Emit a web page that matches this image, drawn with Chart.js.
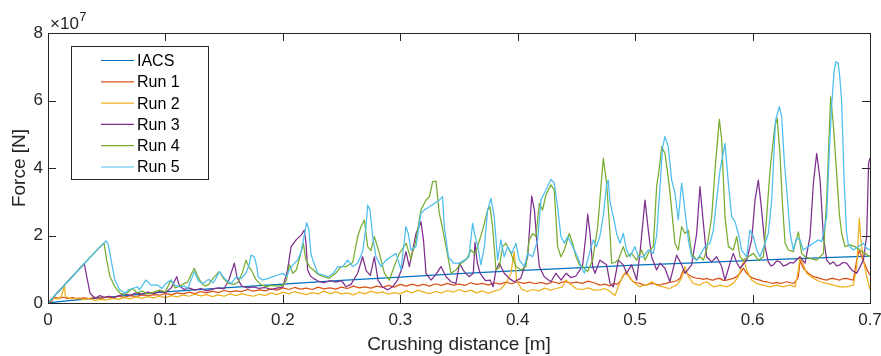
<!DOCTYPE html>
<html>
<head>
<meta charset="utf-8">
<script src="https://cdn.jsdelivr.net/npm/chart.js@4.4.0/dist/chart.umd.min.js"></script>
<style>
  html, body { margin: 0; padding: 0; background: #fff; }
</style>
</head>
<body>
<canvas id="forceChart" width="881" height="356"></canvas>
<script>
// Crushing distance [m] vs force [1e7 N], pairs of [distance, force]
const seriesNames = ["IACS", "Run 1", "Run 2", "Run 3", "Run 4", "Run 5"];
const seriesColors = ["#0072BD", "#D95319", "#EDB120", "#7E2F8E", "#77AC30", "#4DBEEE"];
const xTicks = [0, 0.1, 0.2, 0.3, 0.4, 0.5, 0.6, 0.7];
const yTicks = [0, 2, 4, 6, 8];

const iacs = [[0,0],[0.01,0.04],[0.02,0.08],[0.03,0.11],[0.05,0.17],[0.075,0.25],[0.1,0.33],[0.15,0.45],[0.2,0.56],[0.25,0.67],[0.3,0.77],[0.35,0.87],[0.4,0.96],[0.45,1.04],[0.5,1.12],[0.55,1.19],[0.6,1.26],[0.65,1.33],[0.7,1.39]];

const run1 = [[0,0],[0.003,0.05],[0.005,0.18],[0.009,0.14],[0.013,0.17],[0.017,0.13],[0.021,0.16],[0.025,0.12],[0.03,0.15],[0.035,0.13],[0.04,0.17],[0.045,0.14],[0.05,0.18],[0.055,0.16],[0.06,0.2],[0.065,0.17],[0.07,0.22],[0.075,0.19],[0.08,0.24],[0.085,0.21],[0.09,0.25],[0.095,0.23],[0.1,0.28],[0.105,0.25],[0.11,0.3],[0.115,0.27],[0.12,0.32],[0.125,0.28],[0.13,0.34],[0.135,0.3],[0.14,0.35],[0.145,0.31],[0.15,0.37],[0.155,0.33],[0.16,0.36],[0.165,0.34],[0.17,0.4],[0.175,0.35],[0.18,0.39],[0.185,0.36],[0.19,0.42],[0.195,0.38],[0.2,0.45],[0.205,0.4],[0.21,0.46],[0.215,0.41],[0.22,0.44],[0.225,0.4],[0.23,0.47],[0.235,0.42],[0.24,0.45],[0.245,0.41],[0.25,0.47],[0.255,0.43],[0.26,0.5],[0.265,0.45],[0.27,0.48],[0.275,0.44],[0.28,0.5],[0.285,0.46],[0.29,0.52],[0.295,0.47],[0.3,0.55],[0.305,0.5],[0.31,0.56],[0.315,0.51],[0.32,0.55],[0.325,0.5],[0.33,0.57],[0.335,0.52],[0.34,0.58],[0.345,0.53],[0.35,0.56],[0.355,0.52],[0.36,0.6],[0.365,0.55],[0.37,0.58],[0.375,0.53],[0.38,0.6],[0.385,0.56],[0.39,0.62],[0.395,0.57],[0.4,0.63],[0.405,0.58],[0.41,0.62],[0.415,0.57],[0.42,0.61],[0.425,0.56],[0.43,0.63],[0.435,0.58],[0.44,0.64],[0.445,0.59],[0.45,0.62],[0.455,0.58],[0.46,0.65],[0.465,0.6],
    [0.47,0.53],[0.4743,0.56],[0.4786,0.51],[0.4814,0.58],[0.4843,0.55],[0.4871,0.63],[0.4913,0.88],[0.4941,0.83],[0.4965,0.7],[0.4984,0.63],[0.5013,0.6],[0.5041,0.58],[0.507,0.54],[0.5098,0.53],[0.5126,0.57],[0.5155,0.58],[0.5183,0.55],[0.5211,0.53],[0.524,0.57],[0.5268,0.58],[0.5296,0.62],[0.5325,0.63],[0.5353,0.66],[0.5382,0.73],[0.541,0.98],[0.5438,0.88],[0.5481,0.78],[0.5515,0.74],[0.5552,0.73],[0.558,0.7],[0.5609,0.73],[0.5638,0.69],[0.5666,0.68],[0.5695,0.72],[0.5723,0.73],[0.575,0.67],[0.578,0.68],[0.5808,0.71],[0.5836,0.73],[0.5865,0.78],[0.5893,0.88],[0.5922,1.03],[0.595,0.88],[0.598,0.78],[0.6007,0.73],[0.6035,0.7],[0.6063,0.68],[0.609,0.64],[0.612,0.63],[0.615,0.6],[0.6177,0.58],[0.6205,0.61],[0.6234,0.58],[0.626,0.6],[0.6291,0.63],[0.632,0.6],[0.6347,0.58],[0.637,0.65],[0.639,0.78],[0.6404,1.27],[0.6432,1.03],[0.6475,0.88],[0.6518,0.78],[0.6545,0.76],[0.6574,0.73],[0.66,0.7],[0.6631,0.68],[0.666,0.72],[0.6688,0.73],[0.6715,0.7],[0.6744,0.68],[0.677,0.72],[0.6801,0.73],[0.683,0.7],[0.6858,0.68],[0.6887,1.27],[0.6909,1.57],[0.6929,1.37],[0.6958,1.13],[0.698,0.95],[0.7,0.83]];

const run2 = [[0,0],[0.004,0.15],[0.008,0.12],[0.0115,0.2],[0.0139,0.53],[0.0148,0.2],[0.018,0.14],[0.022,0.12],[0.026,0.15],[0.03,0.1],[0.035,0.13],[0.04,0.08],[0.045,0.11],[0.05,0.09],[0.055,0.14],[0.06,0.11],[0.065,0.16],[0.07,0.12],[0.075,0.18],[0.08,0.14],[0.085,0.19],[0.09,0.15],[0.095,0.2],[0.1,0.16],[0.105,0.22],[0.11,0.18],[0.115,0.24],[0.12,0.2],[0.125,0.26],[0.13,0.21],[0.135,0.25],[0.14,0.19],[0.145,0.24],[0.15,0.2],[0.155,0.27],[0.16,0.22],[0.165,0.28],[0.17,0.23],[0.175,0.2],[0.18,0.26],[0.185,0.22],[0.19,0.3],[0.195,0.25],[0.2,0.32],[0.205,0.27],[0.21,0.34],[0.215,0.29],[0.22,0.25],[0.225,0.31],[0.23,0.27],[0.235,0.35],[0.24,0.28],[0.245,0.33],[0.25,0.27],[0.255,0.3],[0.26,0.24],[0.265,0.32],[0.27,0.27],[0.275,0.35],[0.28,0.29],[0.285,0.33],[0.29,0.26],[0.295,0.31],[0.3,0.27],[0.305,0.36],[0.31,0.3],[0.315,0.38],[0.32,0.32],[0.325,0.28],[0.33,0.34],[0.335,0.3],[0.34,0.37],[0.345,0.32],[0.35,0.4],[0.355,0.33],[0.36,0.38],[0.365,0.3],[0.37,0.36],[0.375,0.29],[0.38,0.35],[0.385,0.4],[0.39,0.58],[0.3942,0.88],[0.397,1.52],[0.399,0.68],[0.403,0.42],[0.408,0.34],[0.413,0.4],[0.418,0.36],[0.423,0.44],[0.428,0.38],[0.433,0.43],[0.438,0.48],[0.4411,0.68],[0.445,0.55],[0.45,0.42],[0.455,0.4],[0.46,0.45],[0.465,0.38],
    [0.47,0.39],[0.4743,0.43],[0.4786,0.34],[0.4828,0.22],[0.4857,0.48],[0.4899,0.83],[0.4927,0.93],[0.4956,0.73],[0.4998,0.58],[0.5041,0.48],[0.507,0.52],[0.5098,0.53],[0.5141,0.63],[0.5183,0.53],[0.5211,0.5],[0.524,0.48],[0.5268,0.45],[0.5296,0.43],[0.5325,0.49],[0.5353,0.53],[0.5396,0.73],[0.5424,1.08],[0.5453,0.78],[0.5495,0.58],[0.5524,0.55],[0.5552,0.53],[0.558,0.6],[0.5609,0.63],[0.5638,0.55],[0.5666,0.48],[0.5695,0.5],[0.5723,0.53],[0.575,0.5],[0.578,0.48],[0.5808,0.53],[0.5836,0.58],[0.5879,0.78],[0.5907,1.08],[0.5927,1.27],[0.595,0.98],[0.5992,0.68],[0.6035,0.58],[0.6063,0.55],[0.6092,0.53],[0.612,0.5],[0.6149,0.48],[0.6177,0.51],[0.6206,0.53],[0.6234,0.5],[0.6262,0.48],[0.629,0.51],[0.6319,0.53],[0.6362,0.48],[0.639,0.98],[0.6404,1.37],[0.6427,1.18],[0.6461,0.88],[0.6518,0.73],[0.6574,0.63],[0.6631,0.58],[0.6688,0.53],[0.6744,0.48],[0.6801,0.48],[0.6858,0.53],[0.6887,1.08],[0.6909,2.51],[0.692,1.97],[0.6943,1.27],[0.6972,0.78],[0.7,0.39]];

const run3 = [[0,0],[0.0309,1.17],[0.033,0.78],[0.0358,0.29],[0.04,0.14],[0.0443,0.22],[0.048,0.17],[0.052,0.2],[0.056,0.16],[0.06,0.21],[0.065,0.27],[0.07,0.23],[0.075,0.3],[0.08,0.26],[0.085,0.32],[0.09,0.28],[0.095,0.34],[0.1,0.3],[0.105,0.45],[0.1096,0.78],[0.112,0.5],[0.116,0.4],[0.12,0.45],[0.125,0.38],[0.13,0.43],[0.135,0.36],[0.14,0.41],[0.145,0.45],[0.15,0.42],[0.154,0.68],[0.1587,1.18],[0.161,0.75],[0.165,0.5],[0.17,0.45],[0.175,0.48],[0.18,0.43],[0.185,0.46],[0.19,0.4],[0.195,0.44],[0.2,0.47],[0.204,0.98],[0.207,1.67],[0.2113,1.87],[0.2155,2.01],[0.2183,2.16],[0.2197,1.77],[0.2211,0.98],[0.2235,0.8],[0.226,0.73],[0.23,0.65],[0.235,0.6],[0.24,0.66],[0.245,0.62],[0.25,0.66],[0.2538,0.48],[0.258,0.55],[0.2637,0.88],[0.2679,1.37],[0.271,0.95],[0.2745,0.82],[0.2779,1.37],[0.281,0.68],[0.2847,0.48],[0.2892,0.39],[0.2935,0.48],[0.2977,0.68],[0.302,1.08],[0.3048,1.52],[0.3077,1.08],[0.3105,1.55],[0.3134,2.06],[0.3176,2.41],[0.3198,1.85],[0.3219,0.88],[0.3262,0.68],[0.3304,0.85],[0.3346,1.08],[0.339,0.78],[0.3432,0.63],[0.3474,0.58],[0.3505,1.18],[0.354,0.95],[0.3585,0.78],[0.3622,0.88],[0.3636,1.79],[0.3655,1.2],[0.368,0.88],[0.3725,0.66],[0.3765,0.68],[0.379,0.48],[0.3815,0.98],[0.3843,1.18],[0.3885,0.88],[0.3928,0.73],[0.397,0.63],[0.4025,0.73],[0.4085,1.37],[0.4119,3.17],[0.4142,2.76],[0.4162,1.87],[0.4184,1.08],[0.4226,0.78],[0.4283,0.63],[0.4326,0.88],[0.437,0.68],[0.4411,0.88],[0.4455,0.75],[0.4496,0.8],[0.4525,0.95],[0.4553,1.13],[0.4582,2.06],[0.4596,2.63],[0.4616,2.06],[0.4638,1.08],[0.4658,0.88],
    [0.47,1.27],[0.4757,1.13],[0.4786,0.58],[0.4814,0.48],[0.4857,1.27],[0.4899,1.13],[0.4927,0.88],[0.497,1.13],[0.5013,0.68],[0.5041,1.47],[0.5084,3.05],[0.5112,2.16],[0.514,1.37],[0.5183,0.98],[0.5211,1.18],[0.5254,1.03],[0.5296,0.63],[0.5353,1.42],[0.5396,1.13],[0.5424,0.88],[0.5481,1.13],[0.5524,2.06],[0.5552,3.45],[0.5581,2.36],[0.5609,1.37],[0.5652,1.22],[0.5694,1.37],[0.5737,1.08],[0.5765,0.68],[0.5808,1.18],[0.5836,1.47],[0.5865,1.2],[0.5893,1.03],[0.595,1.27],[0.5992,1.87],[0.6021,3.05],[0.6049,3.64],[0.6077,2.76],[0.6106,1.67],[0.6134,1.22],[0.6155,1.1],[0.6177,1.13],[0.6205,1.25],[0.6234,1.22],[0.626,1.1],[0.6291,1.13],[0.632,1.2],[0.6347,1.18],[0.6375,1.28],[0.6404,1.37],[0.6447,1.18],[0.6489,1.97],[0.6518,3.55],[0.6546,4.43],[0.6575,3.64],[0.6603,1.97],[0.6631,1.27],[0.666,1.15],[0.6688,1.22],[0.6715,1.1],[0.6744,1.13],[0.677,1.2],[0.6801,1.18],[0.6844,0.98],[0.6887,0.88],[0.6944,1.27],[0.6972,2.0],[0.6988,4.14],[0.7,4.3]];

const run4 = [[0,0],[0.0309,1.17],[0.0429,1.62],[0.0477,1.77],[0.05,1.27],[0.0528,0.78],[0.057,0.48],[0.0613,0.29],[0.065,0.25],[0.069,0.34],[0.072,0.43],[0.076,0.3],[0.08,0.35],[0.085,0.27],[0.09,0.32],[0.095,0.38],[0.1,0.33],[0.1047,0.68],[0.108,0.45],[0.112,0.5],[0.116,0.58],[0.119,0.62],[0.122,0.85],[0.1246,1.03],[0.128,0.75],[0.131,0.58],[0.134,0.5],[0.137,0.55],[0.141,0.75],[0.146,0.93],[0.15,0.7],[0.154,0.58],[0.158,0.55],[0.162,0.62],[0.1655,0.9],[0.1686,1.27],[0.171,1.08],[0.1735,0.95],[0.177,0.7],[0.181,0.55],[0.186,0.48],[0.19,0.52],[0.195,0.5],[0.2,0.52],[0.203,0.68],[0.2055,1.13],[0.2085,0.88],[0.2115,0.98],[0.2145,1.37],[0.2174,1.77],[0.2195,1.3],[0.2225,1.08],[0.226,0.98],[0.23,0.85],[0.2345,0.78],[0.2395,0.73],[0.245,0.88],[0.2495,1.08],[0.254,1.08],[0.2595,1.2],[0.2637,1.97],[0.2665,2.26],[0.2694,2.46],[0.2722,1.67],[0.275,1.55],[0.2779,1.97],[0.282,1.5],[0.2865,0.88],[0.2907,0.68],[0.295,1.1],[0.2992,1.47],[0.305,1.77],[0.309,1.3],[0.3134,1.87],[0.3176,2.76],[0.3219,3.05],[0.3248,3.15],[0.3276,3.6],[0.3304,3.61],[0.3332,2.66],[0.3355,2.3],[0.3389,1.67],[0.3432,0.88],[0.3474,0.98],[0.3518,1.18],[0.3565,1.3],[0.3602,1.57],[0.3635,1.45],[0.3665,1.75],[0.3701,2.16],[0.3744,2.76],[0.3764,2.85],[0.3786,2.26],[0.3815,0.98],[0.3843,1.05],[0.3871,1.67],[0.39,1.77],[0.3942,1.47],[0.3985,1.08],[0.4028,0.98],[0.407,1.08],[0.4098,1.87],[0.4127,2.06],[0.4155,1.97],[0.4184,2.95],[0.4212,2.76],[0.424,3.2],[0.4283,3.5],[0.4311,3.35],[0.434,1.67],[0.4368,1.37],[0.4397,1.57],[0.4439,2.06],[0.4468,1.77],[0.4496,1.37],[0.4525,1.13],[0.4553,1.08],[0.4595,0.93],[0.4638,1.27],[0.4681,2.26],[0.4709,3.45],[0.4729,4.29],
    [0.4757,3.55],[0.4786,2.06],[0.48,1.18],[0.4828,1.2],[0.4857,1.28],[0.4899,1.67],[0.4927,1.37],[0.497,1.47],[0.5013,1.27],[0.5055,1.57],[0.5084,1.27],[0.5126,1.57],[0.5155,1.67],[0.5183,3.45],[0.5211,4.14],[0.5226,4.63],[0.5254,4.43],[0.5275,3.9],[0.5296,3.3],[0.5311,2.76],[0.5339,1.77],[0.5367,1.57],[0.5396,2.26],[0.5424,2.06],[0.5453,2.16],[0.5481,1.47],[0.5524,1.27],[0.5552,1.37],[0.5581,1.27],[0.5609,1.57],[0.5652,2.56],[0.568,3.94],[0.5717,5.44],[0.5737,4.83],[0.5765,2.56],[0.5794,1.67],[0.5836,1.57],[0.5865,1.97],[0.5893,1.37],[0.5922,1.27],[0.5964,1.37],[0.6007,1.47],[0.6049,1.27],[0.6092,1.37],[0.612,2.56],[0.6149,3.94],[0.6189,5.22],[0.6209,5.47],[0.6232,4.5],[0.6255,2.9],[0.6277,1.77],[0.6305,1.57],[0.6347,1.52],[0.639,2.11],[0.6418,1.47],[0.6447,1.37],[0.6489,1.32],[0.6546,1.27],[0.6603,1.47],[0.6631,3.05],[0.6648,4.6],[0.6665,6.11],[0.6687,5.32],[0.6716,3.84],[0.674,2.6],[0.6759,2.06],[0.6787,1.67],[0.683,1.72],[0.6872,1.67],[0.6915,1.57],[0.6958,1.47],[0.7,1.37]];

const run5 = [[0,0],[0.0309,1.17],[0.0432,1.62],[0.0494,1.84],[0.0514,1.72],[0.0542,1.18],[0.057,0.68],[0.061,0.39],[0.0636,0.34],[0.0656,0.28],[0.069,0.4],[0.0721,0.43],[0.0763,0.48],[0.0778,0.39],[0.0834,0.68],[0.0877,0.53],[0.0934,0.53],[0.097,0.43],[0.1005,0.58],[0.1047,0.68],[0.108,0.52],[0.1125,0.48],[0.116,0.5],[0.119,0.43],[0.122,0.7],[0.1246,0.93],[0.128,0.65],[0.132,0.58],[0.1365,0.7],[0.141,0.6],[0.146,0.93],[0.151,0.7],[0.156,0.58],[0.1605,0.78],[0.164,0.72],[0.168,0.85],[0.171,1.1],[0.1729,1.42],[0.1757,1.37],[0.178,1.05],[0.179,0.78],[0.1825,0.68],[0.187,0.72],[0.1915,0.78],[0.196,0.83],[0.2,0.88],[0.203,0.78],[0.2055,0.98],[0.2085,1.13],[0.2125,1.27],[0.2155,1.5],[0.218,1.97],[0.2203,2.38],[0.222,2.21],[0.2241,1.42],[0.227,1.13],[0.2297,0.88],[0.234,0.83],[0.2385,0.78],[0.243,0.88],[0.2467,1.08],[0.251,1.08],[0.2552,1.27],[0.2595,1.08],[0.2637,1.18],[0.2679,1.52],[0.2708,2.26],[0.2722,2.9],[0.2742,2.76],[0.2765,1.97],[0.2793,1.37],[0.2835,1.08],[0.2878,1.27],[0.292,1.37],[0.2964,1.47],[0.3006,0.98],[0.3048,2.26],[0.3068,2.06],[0.309,1.57],[0.3134,1.67],[0.3176,2.66],[0.3205,2.76],[0.3248,2.85],[0.329,2.95],[0.3332,3.05],[0.336,3.15],[0.3375,2.26],[0.341,1.37],[0.3452,1.18],[0.3503,1.18],[0.3545,1.27],[0.3585,1.37],[0.3616,2.36],[0.363,2.1],[0.366,1.67],[0.3687,1.13],[0.3716,1.67],[0.3744,2.76],[0.3772,3.1],[0.38,2.56],[0.3829,1.27],[0.3857,1.87],[0.3885,1.37],[0.3914,1.67],[0.395,1.47],[0.3985,1.77],[0.4013,1.27],[0.4056,1.08],[0.4085,1.47],[0.4127,1.37],[0.417,1.87],[0.4198,3.05],[0.424,3.35],[0.4283,3.66],[0.4311,3.55],[0.434,2.85],[0.4368,1.97],[0.4397,1.77],[0.4425,1.97],[0.4468,1.67],[0.451,1.37],[0.4539,1.08],[0.4567,0.88],[0.461,1.47],[0.4644,1.87],[0.4672,1.67],[0.4701,2.0],[0.4729,2.6],
    [0.4757,3.5],[0.4771,3.64],[0.4786,3.0],[0.4814,2.56],[0.4842,2.06],[0.4871,1.77],[0.4899,2.06],[0.4927,1.57],[0.4956,1.37],[0.4998,1.67],[0.5027,1.37],[0.5069,1.37],[0.5112,1.57],[0.5155,1.47],[0.5183,2.0],[0.5211,3.4],[0.5233,4.6],[0.5254,4.93],[0.5282,4.63],[0.5311,3.64],[0.534,3.25],[0.5367,2.46],[0.5396,3.55],[0.5424,2.76],[0.5453,1.87],[0.5481,1.37],[0.5524,1.27],[0.5552,1.42],[0.5594,1.67],[0.5637,1.77],[0.5666,2.16],[0.5694,3.05],[0.5723,3.94],[0.5765,4.73],[0.5794,3.55],[0.5822,2.56],[0.585,2.41],[0.5879,2.06],[0.5907,1.57],[0.595,1.37],[0.5978,2.16],[0.6007,1.97],[0.6035,1.57],[0.6063,1.37],[0.6106,1.77],[0.6134,2.06],[0.6163,3.05],[0.6195,5.4],[0.6228,5.82],[0.6248,5.52],[0.627,4.2],[0.6291,3.35],[0.632,2.06],[0.6347,1.57],[0.6376,1.92],[0.6404,1.87],[0.6432,1.57],[0.6475,1.67],[0.6518,1.77],[0.656,1.87],[0.6589,1.82],[0.6631,2.56],[0.6655,4.6],[0.6673,5.82],[0.6695,6.9],[0.671,7.15],[0.673,7.1],[0.6745,6.6],[0.6758,6.0],[0.678,3.6],[0.68,2.1],[0.6816,1.72],[0.6858,1.57],[0.69,1.67],[0.6944,1.77],[0.6972,1.62],[0.7,1.57]];

const allSeries = [iacs, run1, run2, run3, run4, run5];

const FONT = "'Liberation Sans', Arial, Helvetica, sans-serif";
const INK = "#262626";

// box, inward ticks, axis titles, exponent and legend
const matlabFrame = {
    id: "matlabFrame",
    afterDatasetsDraw(chart) {
        const ctx = chart.ctx;
        const a = chart.chartArea;
        const x = chart.scales.x, y = chart.scales.y;
        const tick = 8;
        ctx.save();
        ctx.strokeStyle = INK;
        ctx.lineWidth = 1;
        ctx.beginPath();
        xTicks.forEach(v => {
            const px = Math.round(x.getPixelForValue(v)) + 0.5;
            ctx.moveTo(px, a.bottom); ctx.lineTo(px, a.bottom - tick);
            ctx.moveTo(px, a.top); ctx.lineTo(px, a.top + tick);
        });
        yTicks.forEach(v => {
            const py = Math.round(y.getPixelForValue(v)) + 0.5;
            ctx.moveTo(a.left, py); ctx.lineTo(a.left + tick, py);
            ctx.moveTo(a.right, py); ctx.lineTo(a.right - tick, py);
        });
        ctx.stroke();
        ctx.strokeRect(Math.round(a.left) + 0.5, Math.round(a.top) + 0.5,
            Math.round(a.right - a.left), Math.round(a.bottom - a.top));

        // axis titles
        ctx.fillStyle = INK;
        ctx.font = "19px " + FONT;
        ctx.textAlign = "center";
        ctx.textBaseline = "alphabetic";
        ctx.fillText("Crushing distance [m]", (a.left + a.right) / 2, 350);
        ctx.save();
        ctx.translate(25, (a.top + a.bottom) / 2);
        ctx.rotate(-Math.PI / 2);
        ctx.fillText("Force [N]", 0, 0);
        ctx.restore();

        // exponent above the y axis
        ctx.textAlign = "left";
        ctx.font = "17px " + FONT;
        ctx.fillText("\u00d710", 50, 29);
        const w = ctx.measureText("\u00d710").width;
        ctx.font = "13px " + FONT;
        ctx.fillText("7", 50 + w + 0.5, 20.5);

        // legend
        const lx = 71.5, ly = 46.5, lw = 137, lh = 133;
        ctx.fillStyle = "#fff";
        ctx.fillRect(lx, ly, lw, lh);
        ctx.strokeStyle = INK;
        ctx.strokeRect(lx, ly, lw, lh);
        ctx.font = "16px " + FONT;
        ctx.textBaseline = "middle";
        seriesNames.forEach((name, i) => {
            const ry = 60.5 + i * 21.3;
            ctx.strokeStyle = seriesColors[i];
            ctx.lineWidth = 1.2;
            ctx.beginPath();
            ctx.moveTo(101, ry);
            ctx.lineTo(134, ry);
            ctx.stroke();
            ctx.fillStyle = "#000";
            ctx.fillText(name, 137, ry + 1);
        });
        ctx.restore();
    }
};

const datasets = allSeries.map((pts, i) => ({
    label: seriesNames[i],
    data: pts.map(p => ({ x: p[0], y: p[1] })),
    borderColor: seriesColors[i],
    backgroundColor: seriesColors[i],
    borderWidth: 1.25,
    borderJoinStyle: "round",
    pointRadius: 0,
    tension: 0,
    fill: false,
    order: seriesNames.length - i
}));

new Chart(document.getElementById("forceChart"), {
    type: "line",
    data: { datasets },
    options: {
        responsive: false,
        animation: false,
        events: [],
        layout: { padding: { left: 0, top: 33, right: 11, bottom: 0 } },
        plugins: { legend: { display: false }, tooltip: { enabled: false } },
        scales: {
            x: {
                type: "linear",
                min: 0,
                max: 0.7,
                grid: { display: false, drawTicks: false },
                border: { display: false },
                afterBuildTicks: s => { s.ticks = xTicks.map(v => ({ value: v })); },
                afterFit: s => { s.height = 53; s.paddingLeft = 0; s.paddingRight = 0; },
                ticks: {
                    padding: 7,
                    color: INK,
                    font: { family: FONT, size: 17 },
                    maxRotation: 0,
                    autoSkip: false,
                    callback: v => String(+v.toFixed(1))
                }
            },
            y: {
                min: 0,
                max: 8,
                grid: { display: false, drawTicks: false },
                border: { display: false },
                afterBuildTicks: s => { s.ticks = yTicks.map(v => ({ value: v })); },
                afterFit: s => { s.width = 48; s.paddingTop = 0; s.paddingBottom = 0; },
                ticks: {
                    padding: 5,
                    color: INK,
                    font: { family: FONT, size: 17 },
                    callback: v => String(v)
                }
            }
        }
    },
    plugins: [matlabFrame]
});
</script>
</body>
</html>
